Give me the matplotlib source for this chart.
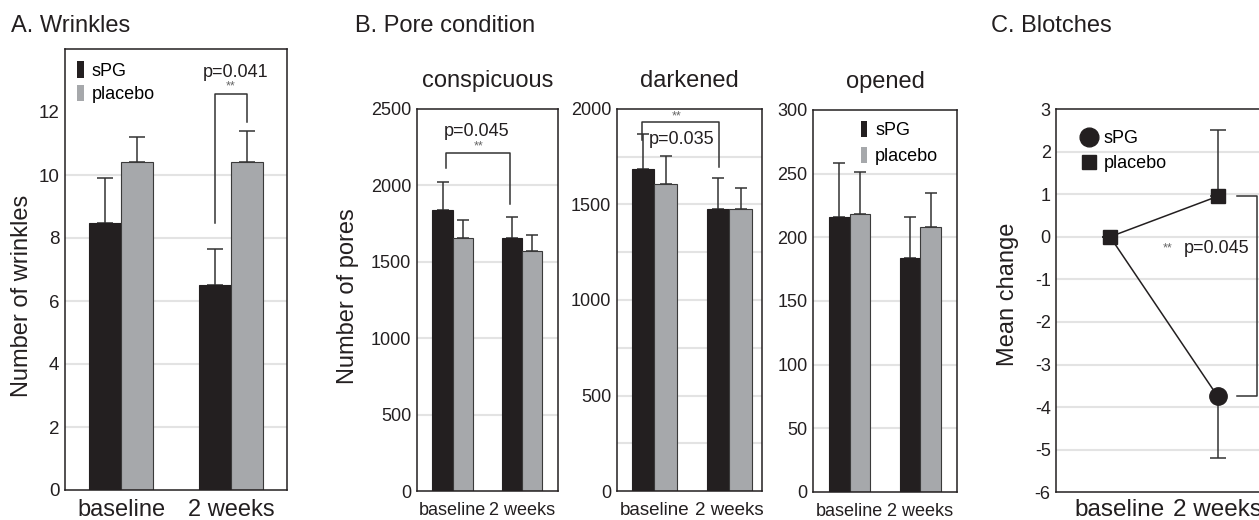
import numpy as np
import matplotlib
matplotlib.use('Agg')
import matplotlib.pyplot as plt
import matplotlib.transforms as mtransforms
from matplotlib.lines import Line2D
from matplotlib.patches import Patch

plt.rcParams['font.family'] = ['Liberation Sans', 'DejaVu Sans']
plt.rcParams['axes.unicode_minus'] = False

# ---- data ----
timepoints = ['baseline', '2 weeks']

wrinkles_spg = [8.47, 6.5]
wrinkles_spg_err = [1.44, 1.16]
wrinkles_pla = [10.4, 10.4]
wrinkles_pla_err = [0.8, 0.99]

consp_spg = [1840, 1655]
consp_spg_err = [182, 141]
consp_pla = [1654, 1573]
consp_pla_err = [122, 100]

dark_spg = [1686, 1475]
dark_spg_err = [181, 162]
dark_pla = [1606, 1475]
dark_pla_err = [148, 113]

open_spg = [216, 184]
open_spg_err = [42, 32]
open_pla = [218, 208]
open_pla_err = [33, 27]

blotch_spg = [0, -3.75]
blotch_spg_err = [0, 1.45]
blotch_pla = [0, 0.95]
blotch_pla_err = [0, 1.55]

BLACK = '#231f20'
GREY = '#a6a8ab'
GRID = '#e3e3e3'
TXT = '#231f20'

W, H = 1259, 520
fig = plt.figure(figsize=(W / 100, H / 100), dpi=100)


def box(l, r, t, b):
    return [l / W, 1 - b / H, (r - l) / W, (b - t) / H]


def style(ax, ylim, yticks, grid, xlim, tick_fs, x_fs, xpad):
    for g in grid:
        ax.axhline(g, color=GRID, lw=1.5, zorder=0)
    ax.set_xlim(*xlim)
    ax.set_ylim(*ylim)
    ax.set_yticks(yticks)
    ax.set_xticks([0, 1])
    ax.set_xticklabels(timepoints, fontsize=x_fs, color=TXT)
    ax.tick_params(axis='y', length=0, pad=4, labelsize=tick_fs, labelcolor=TXT)
    ax.tick_params(axis='x', length=0, pad=xpad)
    for s in ax.spines.values():
        s.set_color(BLACK)
        s.set_linewidth(1.1)


def bars(ax, spg, spg_err, pla, pla_err, w, cap):
    x = np.arange(2)
    ax.bar(x - w / 2, spg, w, color=BLACK, edgecolor=BLACK, lw=0.8, zorder=2)
    ax.bar(x + w / 2, pla, w, color=GREY, edgecolor='#3a3a3a', lw=0.8, zorder=2)
    ax.errorbar(x - w / 2, spg, yerr=[np.zeros(2), spg_err], fmt='none', ecolor='#333333',
                elinewidth=1.1, capsize=cap, capthick=1.1, zorder=1)
    ax.errorbar(x + w / 2, pla, yerr=[np.zeros(2), pla_err], fmt='none', ecolor='#333333',
                elinewidth=1.1, capsize=cap, capthick=1.1, zorder=1)


def bar_legend(ax, anchor, spacing):
    hs = [Patch(facecolor=BLACK, edgecolor='none'), Patch(facecolor=GREY, edgecolor='none')]
    ax.legend(hs, ['sPG', 'placebo'], loc='upper left', bbox_to_anchor=anchor,
              frameon=False, fontsize=13, handlelength=0.38, handleheight=1.0,
              handletextpad=0.42, labelspacing=spacing, borderpad=0, borderaxespad=0)


def bracket(ax, x0, x1, y0, ytop, y1):
    ax.plot([x0, x0, x1, x1], [y0, ytop, ytop, y1], color='#333333', lw=1.1, zorder=3)


# ---- A. Wrinkles ----
axA = fig.add_axes(box(65, 287, 49, 490))
style(axA, (0, 14), range(0, 13, 2), range(2, 11, 2), (-0.51, 1.51), 13.5, 17, 6.5)
bars(axA, wrinkles_spg, wrinkles_spg_err, wrinkles_pla, wrinkles_pla_err, 0.29, 5.5)
bracket(axA, 0.855, 1.145, 8.47, 12.57, 11.68)
axA.text(0.995, 12.8, '**', fontsize=9, color='#666666', ha='center', va='center')
axA.text(1.04, 13.24, 'p=0.041', fontsize=13, color=TXT, ha='center', va='center')
bar_legend(axA, (0.055, 0.972), 0.3)

# ---- B. Pore condition ----
axB1 = fig.add_axes(box(416.7, 557.7, 109, 491))
style(axB1, (0, 2500), range(0, 2501, 500), range(500, 2001, 500), (-0.517, 1.509), 13, 13, 8)
bars(axB1, consp_spg, consp_spg_err, consp_pla, consp_pla_err, 0.29, 4.5)
bracket(axB1, -0.1, 0.82, 2114, 2212, 1878)
axB1.text(0.378, 2253, '**', fontsize=9, color='#666666', ha='center', va='center')
axB1.text(0.35, 2350, 'p=0.045', fontsize=13, color=TXT, ha='center', va='center')
axB1.set_title('conspicuous', fontsize=17, color=TXT, pad=16)

axB2 = fig.add_axes(box(616.7, 761.7, 109, 491))
style(axB2, (0, 2000), range(0, 2001, 500), range(250, 1751, 250), (-0.501, 1.432), 13, 13.5, 8)
bars(axB2, dark_spg, dark_spg_err, dark_pla, dark_pla_err, 0.3, 4.5)
bracket(axB2, -0.168, 0.863, 1838, 1934, 1695)
axB2.text(0.3, 1963, '**', fontsize=9, color='#666666', ha='center', va='center')
axB2.text(-0.07, 1841, 'p=0.035', fontsize=13, color=TXT, ha='left', va='center')
axB2.set_title('darkened', fontsize=17, color=TXT, pad=16)

axB3 = fig.add_axes(box(813.3, 956.7, 110, 492))
style(axB3, (0, 300), range(0, 301, 50), range(50, 251, 50), (-0.516, 1.515), 13, 13, 8)
bars(axB3, open_spg, open_spg_err, open_pla, open_pla_err, 0.29, 4.5)
bar_legend(axB3, (0.33, 0.972), 0.42)
axB3.set_title('opened', fontsize=17, color=TXT, pad=16)

# ---- C. Blotches ----
axC = fig.add_axes(box(1056.2, 1271.6, 109, 492.3))
style(axC, (-6, 3), range(-6, 4), range(-5, 3), (-0.5, 1.5), 13, 17.5, 5)
# the reference nudges "baseline" a bit right of its point
lbl = axC.get_xticklabels()[0]
lbl.set_transform(lbl.get_transform() + mtransforms.ScaledTranslation(10 / 100, 0, fig.dpi_scale_trans))
x = np.arange(2)
axC.errorbar(x, blotch_pla, yerr=[np.zeros(2), blotch_pla_err], fmt='none', ecolor='#333333',
             elinewidth=1.1, capsize=5.5, capthick=1.1, zorder=1)
axC.errorbar(x, blotch_spg, yerr=[blotch_spg_err, np.zeros(2)], fmt='none', ecolor='#333333',
             elinewidth=1.1, capsize=5.5, capthick=1.1, zorder=1)
axC.plot(x, blotch_spg, color=BLACK, lw=1.1, marker='o', ms=12.5, markevery=[1], zorder=3)
axC.plot(x, blotch_pla, color=BLACK, lw=1.1, marker='s', ms=10, zorder=3)
axC.plot([1.182, 1.362, 1.362, 1.182], [blotch_pla[1], blotch_pla[1], blotch_spg[1], blotch_spg[1]],
         color='#333333', lw=1.1, zorder=3)
axC.text(0.53, -0.27, '**', fontsize=9, color='#666666', ha='center', va='center')
axC.text(0.687, -0.27, 'p=0.045', fontsize=13, color=TXT, ha='left', va='center')
hC = [Line2D([], [], ls='none', marker='o', ms=13.5, color=BLACK),
      Line2D([], [], ls='none', marker='s', ms=10.5, color=BLACK)]
axC.legend(hC, ['sPG', 'placebo'], loc='upper left', bbox_to_anchor=(0.11, 0.945),
           frameon=False, fontsize=13, handlelength=1.0, handletextpad=0.3,
           labelspacing=0.45, borderpad=0, borderaxespad=0)

# ---- panel titles and y labels ----
fig.text(11 / W, 1 - 32 / H, 'A. Wrinkles', fontsize=17, color=TXT, va='baseline')
fig.text(355 / W, 1 - 32 / H, 'B. Pore condition', fontsize=17, color=TXT, va='baseline')
fig.text(991 / W, 1 - 32 / H, 'C. Blotches', fontsize=17, color=TXT, va='baseline')
fig.text(22 / W, 1 - 296 / H, 'Number of wrinkles', fontsize=17, color=TXT, rotation=90,
         ha='center', va='center')
fig.text(348 / W, 1 - 296 / H, 'Number of pores', fontsize=17, color=TXT, rotation=90,
         ha='center', va='center')
fig.text(1008 / W, 1 - 294 / H, 'Mean change', fontsize=17, color=TXT, rotation=90,
         ha='center', va='center')

fig.savefig('out.png', dpi=100)
